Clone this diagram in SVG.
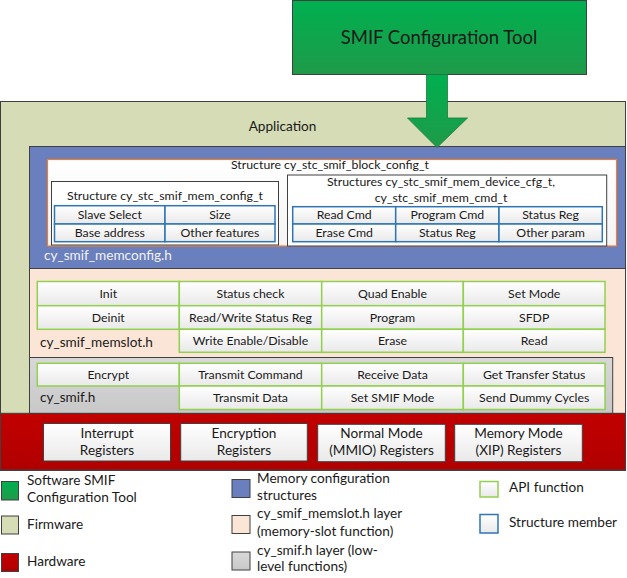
<svg xmlns="http://www.w3.org/2000/svg" width="627" height="578" viewBox="0 0 627 578">
<defs>
<linearGradient id="gGreen" x1="0" y1="0" x2="0" y2="1"><stop offset="0" stop-color="#00b050"/><stop offset="1" stop-color="#1f9a49"/></linearGradient>
<linearGradient id="gCell" x1="0" y1="0" x2="0" y2="1"><stop offset="0" stop-color="#ffffff"/><stop offset="1" stop-color="#e9e9e9"/></linearGradient>
<linearGradient id="gGray" x1="0" y1="0" x2="0" y2="1"><stop offset="0" stop-color="#d8d8d8"/><stop offset="1" stop-color="#c8c8c8"/></linearGradient>
<linearGradient id="gRed" x1="0" y1="0" x2="0" y2="1"><stop offset="0" stop-color="#c20000"/><stop offset="1" stop-color="#b00000"/></linearGradient>
<linearGradient id="gWhite" x1="0" y1="0" x2="0" y2="1"><stop offset="0" stop-color="#ffffff"/><stop offset="1" stop-color="#f4f4f4"/></linearGradient>
<style>
text{font-family:Lato,"Liberation Sans",sans-serif;fill:#1a1a1a}
.t{font-size:12.3px;text-anchor:middle}
.l{font-size:13.6px}
.c{font-size:13.6px;text-anchor:middle}
.box{stroke:#404040;stroke-width:1}
.api{fill:url(#gCell);stroke:#92d050;stroke-width:1.5}
.mem{fill:url(#gCell);stroke:#2e75b6;stroke-width:1.5}
.hw{fill:url(#gCell);stroke:#404040;stroke-width:1}
.sw{stroke:#404040;stroke-width:1}
</style>
</defs>

<g id="application">
<rect class="box" x="0.5" y="101.5" width="625" height="369" fill="#d5dcb6"/>
<text class="c" x="282.5" y="130.5">Application</text>
</g>

<g id="memconfig">
<rect class="box" x="29.5" y="146.5" width="596" height="122" fill="#6a7fbe"/>
<text class="l" x="44" y="260" style="fill:#f2f2f2">cy_smif_memconfig.h</text>
</g>

<g id="block-config">
<rect x="47.5" y="159.5" width="569" height="86.5" fill="url(#gWhite)" stroke="#ed7d31" stroke-width="1.2"/>
<text class="t" x="330" y="169">Structure cy_stc_smif_block_config_t</text>
</g>

<g id="mem-config">
<rect class="box" x="51.5" y="181.5" width="227" height="63.5" fill="#ffffff"/>
<text class="t" x="165" y="200">Structure cy_stc_smif_mem_config_t</text>
<rect class="mem" x="54.5" y="205.7" width="110.5" height="18.3"/>
<rect class="mem" x="165" y="205.7" width="110" height="18.3"/>
<rect class="mem" x="54.5" y="224" width="110.5" height="17.7"/>
<rect class="mem" x="165" y="224" width="110" height="17.7"/>
<text class="t" x="109.8" y="218.6">Slave Select</text>
<text class="t" x="220" y="218.6">Size</text>
<text class="t" x="109.8" y="236.8">Base address</text>
<text class="t" x="220" y="236.8">Other features</text>
</g>

<g id="device-config">
<rect class="box" x="287.5" y="175" width="319.2" height="71" fill="#ffffff"/>
<text class="t" x="441" y="186">Structures cy_stc_smif_mem_device_cfg_t,</text>
<text class="t" x="441" y="201.5">cy_stc_smif_mem_cmd_t</text>
<rect class="mem" x="292.7" y="206.7" width="103" height="17.3"/>
<rect class="mem" x="395.7" y="206.7" width="103.3" height="17.3"/>
<rect class="mem" x="499" y="206.7" width="103.3" height="17.3"/>
<rect class="mem" x="292.7" y="224" width="103" height="17.7"/>
<rect class="mem" x="395.7" y="224" width="103.3" height="17.7"/>
<rect class="mem" x="499" y="224" width="103.3" height="17.7"/>
<text class="t" x="344.2" y="219.3">Read Cmd</text>
<text class="t" x="447.3" y="219.3">Program Cmd</text>
<text class="t" x="550.6" y="219.3">Status Reg</text>
<text class="t" x="344.2" y="237">Erase Cmd</text>
<text class="t" x="447.3" y="237">Status Reg</text>
<text class="t" x="550.6" y="237">Other param</text>
</g>

<g id="memslot">
<rect class="box" x="29.5" y="268.5" width="596" height="145" fill="#fbe5d6"/>
<rect class="api" x="37.3" y="281.5" width="142" height="24.2"/>
<rect class="api" x="179.3" y="281.5" width="142.4" height="24.2"/>
<rect class="api" x="321.7" y="281.5" width="141.6" height="24.2"/>
<rect class="api" x="463.3" y="281.5" width="141.7" height="24.2"/>
<rect class="api" x="37.3" y="305.7" width="142" height="23.6"/>
<rect class="api" x="179.3" y="305.7" width="142.4" height="23.6"/>
<rect class="api" x="321.7" y="305.7" width="141.6" height="23.6"/>
<rect class="api" x="463.3" y="305.7" width="141.7" height="23.6"/>
<rect class="api" x="179.3" y="329.3" width="142.4" height="23"/>
<rect class="api" x="321.7" y="329.3" width="141.6" height="23"/>
<rect class="api" x="463.3" y="329.3" width="141.7" height="23"/>
<text class="t" x="108.3" y="297.5">Init</text>
<text class="t" x="250.5" y="297.5">Status check</text>
<text class="t" x="392.5" y="297.5">Quad Enable</text>
<text class="t" x="534.2" y="297.5">Set Mode</text>
<text class="t" x="108.3" y="321.5">Deinit</text>
<text class="t" x="250.5" y="321.5">Read/Write Status Reg</text>
<text class="t" x="392.5" y="321.5">Program</text>
<text class="t" x="534.2" y="321.5">SFDP</text>
<text class="t" x="250.5" y="344.5">Write Enable/Disable</text>
<text class="t" x="392.5" y="344.5">Erase</text>
<text class="t" x="534.2" y="344.5">Read</text>
<text class="l" x="40" y="346.8">cy_smif_memslot.h</text>
</g>

<g id="smif">
<rect class="box" x="29.5" y="357.5" width="583.2" height="56" fill="url(#gGray)"/>
<rect class="api" x="37.3" y="363.3" width="142" height="22.7"/>
<rect class="api" x="179.3" y="363.3" width="142.4" height="22.7"/>
<rect class="api" x="321.7" y="363.3" width="141.6" height="22.7"/>
<rect class="api" x="463.3" y="363.3" width="141.7" height="22.7"/>
<rect class="api" x="179.3" y="386" width="142.4" height="23.5"/>
<rect class="api" x="321.7" y="386" width="141.6" height="23.5"/>
<rect class="api" x="463.3" y="386" width="141.7" height="23.5"/>
<text class="t" x="108.3" y="378.8">Encrypt</text>
<text class="t" x="250.5" y="378.8">Transmit Command</text>
<text class="t" x="392.5" y="378.8">Receive Data</text>
<text class="t" x="534.2" y="378.8">Get Transfer Status</text>
<text class="t" x="250.5" y="402">Transmit Data</text>
<text class="t" x="392.5" y="402">Set SMIF Mode</text>
<text class="t" x="534.2" y="402">Send Dummy Cycles</text>
<text class="l" x="40" y="402.3">cy_smif.h</text>
</g>

<g id="hardware">
<rect class="box" x="0.5" y="413.3" width="625" height="56.7" fill="url(#gRed)"/>
<rect class="hw" x="43.5" y="423.5" width="127" height="37.5"/>
<rect class="hw" x="180.7" y="423.5" width="126.6" height="37.5"/>
<rect class="hw" x="317.7" y="424.3" width="127.6" height="37.4"/>
<rect class="hw" x="454.7" y="424.3" width="127.6" height="37.4"/>
<text class="c" x="107" y="437.5">Interrupt</text>
<text class="c" x="107" y="454.5">Registers</text>
<text class="c" x="244" y="437.5">Encryption</text>
<text class="c" x="244" y="454.5">Registers</text>
<text class="c" x="381.5" y="438.3">Normal Mode</text>
<text class="c" x="381.5" y="455.3">(MMIO) Registers</text>
<text class="c" x="518.5" y="438.3">Memory Mode</text>
<text class="c" x="518.5" y="455.3">(XIP) Registers</text>
</g>

<g id="config-tool">
<rect x="292.5" y="0.5" width="294" height="74" fill="url(#gGreen)" stroke="#404040" stroke-width="1"/>
<text x="439" y="44" style="font-size:18.5px;text-anchor:middle">SMIF Configuration Tool</text>
</g>

<g id="connectors">
<polygon points="426.5,74.5 447.5,74.5 447.5,118 467.5,118 437,147.5 407.5,118 426.5,118" fill="url(#gGreen)" stroke="#1e7a3c" stroke-width="0.8"/>
</g>

<g id="legend">
<rect class="sw" x="1.5" y="481.5" width="17" height="18.5" fill="url(#gGreen)"/>
<text class="l" x="27" y="485">Software SMIF</text>
<text class="l" x="27" y="501.5">Configuration Tool</text>
<rect class="sw" x="1.5" y="516" width="17" height="18" fill="#d5dcb6"/>
<text class="l" x="27" y="529">Firmware</text>
<rect class="sw" x="1.5" y="553.5" width="17" height="18" fill="url(#gRed)"/>
<text class="l" x="27" y="566">Hardware</text>
<rect class="sw" x="232" y="479.5" width="18" height="18" fill="#6a7fbe"/>
<text class="l" x="257" y="482.5">Memory configuration</text>
<text class="l" x="257" y="500">structures</text>
<rect class="sw" x="232" y="515.5" width="18" height="18" fill="#fbe5d6"/>
<text class="l" x="257" y="518">cy_smif_memslot.h layer</text>
<text class="l" x="257" y="536">(memory-slot function)</text>
<rect class="sw" x="232" y="552" width="18" height="18" fill="url(#gGray)"/>
<text class="l" x="257" y="554.5">cy_smif.h layer (low-</text>
<text class="l" x="257" y="571">level functions)</text>
<rect x="480" y="481.5" width="18" height="15.5" fill="url(#gCell)" stroke="#92d050" stroke-width="1.5"/>
<text class="l" x="509" y="492">API function</text>
<rect x="480" y="514.5" width="18" height="18.5" fill="url(#gCell)" stroke="#2e75b6" stroke-width="1.5"/>
<text class="l" x="509" y="527">Structure member</text>
</g>
</svg>
